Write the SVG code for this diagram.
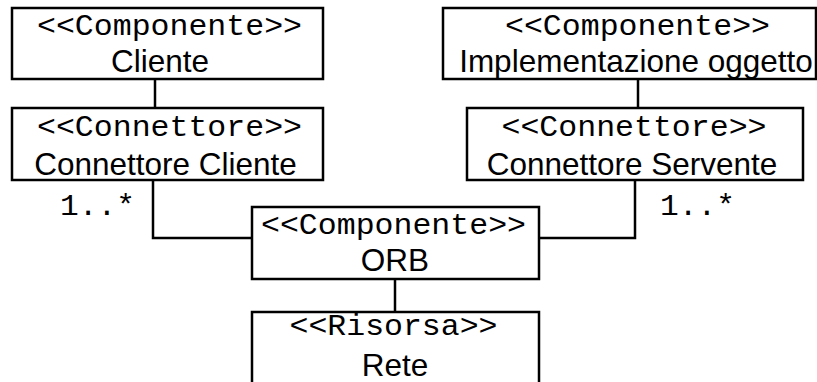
<svg xmlns="http://www.w3.org/2000/svg" width="817" height="382" viewBox="0 0 817 382">
  <style>
    .box { fill: #ffffff; stroke: #000000; stroke-width: 2.5; }
    .wire { fill: none; stroke: #000000; stroke-width: 2.5; }
    .st { font-family: "Liberation Mono", "Courier New", monospace; font-size: 29px; fill: #000000; text-anchor: middle; }
    .nm { font-family: "Liberation Sans", Arial, sans-serif; font-size: 31.5px; fill: #000000; text-anchor: middle; }
    .mult { font-family: "Liberation Mono", "Courier New", monospace; font-size: 29px; fill: #000000; }
  </style>

  <!-- connectors -->
  <g id="connectors">
    <line class="wire" x1="155" y1="79" x2="155" y2="108"/>
    <line class="wire" x1="638" y1="79" x2="638" y2="108"/>
    <polyline class="wire" points="153,180 153,238 252,238"/>
    <polyline class="wire" points="635,180 635,238 539,238"/>
    <line class="wire" x1="395" y1="279" x2="395" y2="312"/>
    <text class="mult" x="60" y="215" textLength="75" lengthAdjust="spacingAndGlyphs">1..*</text>
    <text class="mult" x="660" y="215" textLength="75" lengthAdjust="spacingAndGlyphs">1..*</text>
  </g>

  <g id="cliente">
    <rect class="box" x="12" y="8" width="311" height="71"/>
    <text class="st" x="169.5" y="35" textLength="265" lengthAdjust="spacingAndGlyphs">&lt;&lt;Componente&gt;&gt;</text>
    <text class="nm" x="160" y="72">Cliente</text>
  </g>

  <g id="implementazione">
    <rect class="box" x="443" y="8" width="373" height="71"/>
    <text class="st" x="637.5" y="35" textLength="265" lengthAdjust="spacingAndGlyphs">&lt;&lt;Componente&gt;&gt;</text>
    <text class="nm" x="636" y="72">Implementazione oggetto</text>
  </g>

  <g id="connettore-cliente">
    <rect class="box" x="12" y="108" width="311" height="72"/>
    <text class="st" x="169.5" y="136" textLength="265" lengthAdjust="spacingAndGlyphs">&lt;&lt;Connettore&gt;&gt;</text>
    <text class="nm" x="165.5" y="175">Connettore Cliente</text>
  </g>

  <g id="connettore-servente">
    <rect class="box" x="467" y="108" width="336" height="72"/>
    <text class="st" x="634" y="136" textLength="265" lengthAdjust="spacingAndGlyphs">&lt;&lt;Connettore&gt;&gt;</text>
    <text class="nm" x="632" y="175">Connettore Servente</text>
  </g>

  <g id="orb">
    <rect class="box" x="252" y="207" width="287" height="72"/>
    <text class="st" x="393.5" y="234" textLength="265" lengthAdjust="spacingAndGlyphs">&lt;&lt;Componente&gt;&gt;</text>
    <text class="nm" x="395" y="271">ORB</text>
  </g>

  <g id="rete">
    <rect class="box" x="252" y="312" width="287" height="76"/>
    <text class="st" x="393.5" y="335" textLength="208" lengthAdjust="spacingAndGlyphs">&lt;&lt;Risorsa&gt;&gt;</text>
    <text class="nm" x="395" y="376">Rete</text>
  </g>
</svg>
